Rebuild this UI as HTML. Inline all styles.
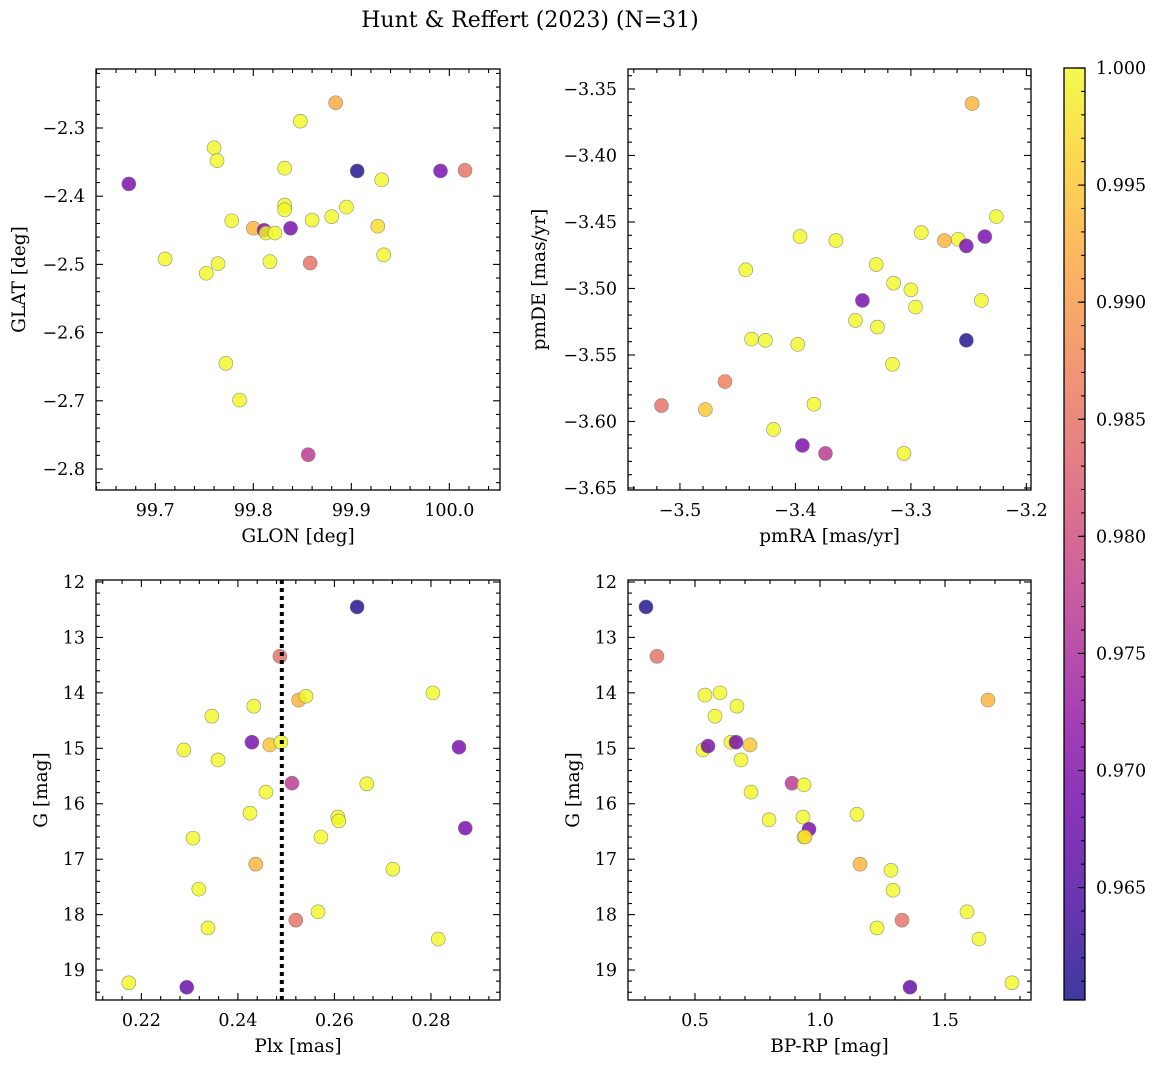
<!DOCTYPE html>
<html><head><meta charset="utf-8">
<style>
html,body{margin:0;padding:0;background:#fff;}
svg text{font-family:"DejaVu Serif","Liberation Serif",serif;fill:#000;}
</style></head>
<body>
<svg id="fig" width="1161" height="1068" xmlns="http://www.w3.org/2000/svg">
<text x="530" y="27" font-size="22" text-anchor="middle">Hunt &amp; Reffert (2023) (N=31)</text>
</svg>
<script>
// ---- Panel 1: GLON / GLAT ----
const glon = [99.673,99.710,99.752,99.764,99.772,99.778,99.786,99.760,99.763,99.800,99.811,99.813,99.822,99.817,99.832,99.832,99.832,99.838,99.848,99.860,99.858,99.856,99.880,99.895,99.884,99.906,99.927,99.931,99.933,99.991,100.016];
const glat = [-2.382,-2.492,-2.513,-2.499,-2.645,-2.436,-2.699,-2.329,-2.348,-2.447,-2.450,-2.454,-2.454,-2.496,-2.359,-2.413,-2.420,-2.447,-2.290,-2.435,-2.498,-2.779,-2.430,-2.416,-2.263,-2.363,-2.444,-2.376,-2.486,-2.363,-2.362];
const prob1 = [0.969,1,1,1,1,1,1,1,1,0.993,0.970,1,1,1,1,1,1,0.969,1,1,0.985,0.977,1,1,0.992,0.961,0.997,1,1,0.969,0.985];
// ---- Panel 2: pmRA / pmDE ----
const pmra = [-3.516,-3.478,-3.461,-3.443,-3.438,-3.426,-3.419,-3.398,-3.396,-3.384,-3.394,-3.374,-3.365,-3.348,-3.342,-3.330,-3.329,-3.316,-3.315,-3.306,-3.300,-3.296,-3.291,-3.271,-3.259,-3.252,-3.252,-3.247,-3.239,-3.236,-3.226];
const pmde = [-3.588,-3.591,-3.570,-3.486,-3.538,-3.539,-3.606,-3.542,-3.461,-3.587,-3.618,-3.624,-3.464,-3.524,-3.509,-3.482,-3.529,-3.557,-3.496,-3.624,-3.501,-3.514,-3.458,-3.464,-3.463,-3.468,-3.539,-3.361,-3.509,-3.461,-3.446];
const prob2 = [0.985,0.995,0.987,1,1,1,1,1,1,1,0.969,0.977,1,1,0.969,1,1,1,1,1,1,1,1,0.993,1,0.969,0.961,0.993,1,0.969,1];
// ---- Panel 3: Plx / G ----
const plx = [0.2174,0.2294,0.2288,0.2307,0.2319,0.2338,0.2346,0.2359,0.2429,0.2425,0.2433,0.2437,0.2466,0.2458,0.2487,0.2489,0.2512,0.2520,0.2526,0.2541,0.2566,0.2572,0.2607,0.2609,0.2647,0.2667,0.2721,0.2804,0.2815,0.2858,0.2871];
const gmag3 = [19.23,19.31,15.03,16.62,17.54,18.24,14.42,15.21,14.89,16.17,14.24,17.09,14.94,15.79,13.34,14.89,15.63,18.10,14.13,14.06,17.95,16.60,16.24,16.31,12.45,15.64,17.18,14.00,18.44,14.98,16.44];
const prob3 = [1,0.967,1,1,1,1,1,1,0.969,1,1,0.993,0.995,1,0.985,1,0.977,0.985,0.993,1,1,1,1,1,0.961,1,1,1,1,0.969,0.969];
const plxLine = [0.2491];
// ---- Panel 4: BP-RP / G ----
const bprp = [0.304,0.348,0.540,0.532,0.552,0.580,0.600,0.644,0.668,0.664,0.684,0.720,0.724,0.796,0.888,0.936,0.932,0.956,0.936,0.940,1.148,1.160,1.284,1.292,1.228,1.328,1.360,1.588,1.636,1.672,1.768];
const gmag4 = [12.45,13.34,14.04,15.03,14.96,14.42,14.00,14.89,14.24,14.89,15.21,14.94,15.79,16.29,15.63,15.66,16.24,16.46,16.60,16.60,16.19,17.09,17.20,17.56,18.24,18.10,19.31,17.95,18.44,14.13,19.23];
const prob4 = [0.961,0.985,1,1,0.969,1,1,1,1,0.969,1,0.995,1,1,0.977,1,1,0.969,1,0.997,1,0.993,1,1,1,0.985,0.967,1,1,0.993,1];
// ---- Colorbar ----
const cbarTicks = [0.965,0.970,0.975,0.980,0.985,0.990,0.995,1.000];
const vmin = 0.9602, vmax = 1.0;

const NS = "http://www.w3.org/2000/svg";
const svg = document.getElementById('fig');
function mk(tag, attrs, parent){const e=document.createElementNS(NS,tag);for(const k in attrs)e.setAttribute(k,attrs[k]);(parent||svg).appendChild(e);return e;}

const plasma=[[13,8,135],[65,4,157],[106,0,168],[143,13,164],[177,42,144],[204,71,120],[225,100,98],[242,132,75],[252,166,54],[252,206,37],[240,249,33]];
function cmap(v){let t=(v-vmin)/(vmax-vmin);t=Math.max(0,Math.min(1,t));const p=t*10,i=Math.min(9,Math.floor(p)),f=p-i;const a=plasma[i],b=plasma[i+1];return `rgb(${Math.round(a[0]+(b[0]-a[0])*f)},${Math.round(a[1]+(b[1]-a[1])*f)},${Math.round(a[2]+(b[2]-a[2])*f)})`;}
function fmt(v,d){const s=Math.abs(v).toFixed(d);return (v<-1e-9?'\u2212':'')+s;}

function panel(cfg){
  const {name,x0,x1,y0,y1,xmin,xmax,ymin,ymax,invert}=cfg;
  const sx=v=>x0+(v-xmin)/(xmax-xmin)*(x1-x0);
  const sy=invert? v=>y0+(v-ymin)/(ymax-ymin)*(y1-y0) : v=>y1-(v-ymin)/(ymax-ymin)*(y1-y0);
  const g=mk('g',{});
  
  
  const pg=mk('g',{},g);
  
  
  cfg.xs.forEach((xv,i)=>{
    const c=mk('circle',{cx:sx(xv),cy:sy(cfg.ys[i]),r:7,fill:cmap(cfg.cs[i]),'fill-opacity':0.8,stroke:'#777','stroke-width':0.6,'stroke-opacity':0.8},pg);
    
    
  });
  if(cfg.vline){cfg.vline.forEach(v=>{
    const l=mk('line',{x1:sx(v),x2:sx(v),y1:y0,y2:y1,stroke:'#000','stroke-width':4,'stroke-dasharray':'4 4'},g);
    
    
  });}
  const fr=mk('rect',{x:x0,y:y0,width:x1-x0,height:y1-y0,fill:'none',stroke:'#000','stroke-width':1.3},g);
  
  
  const tg=mk('g',{stroke:'#000','stroke-width':1.1},g);
  function ticks(min,max,step,minor,axis,dec){
    const n0=Math.ceil(min/minor-1e-6), n1=Math.floor(max/minor+1e-6);
    const per=Math.round(step/minor);
    for(let n=n0;n<=n1;n++){
      const v=n*minor, major=(((n%per)+per)%per)===0;
      const L=major?7:4;
      if(axis==='x'){const p=sx(v);
        mk('line',{x1:p,x2:p,y1:y1,y2:y1-L},tg);mk('line',{x1:p,x2:p,y1:y0,y2:y0+L},tg);
        if(major){const t=mk('text',{x:p,y:y1+26,'font-size':17.5,'text-anchor':'middle',stroke:'none'},g);t.textContent=fmt(v,dec);
          
          }
      } else {const p=sy(v);
        mk('line',{x1:x0,x2:x0+L,y1:p,y2:p},tg);mk('line',{x1:x1,x2:x1-L,y1:p,y2:p},tg);
        if(major){const t=mk('text',{x:x0-11,y:p+6,'font-size':17.5,'text-anchor':'end',stroke:'none'},g);t.textContent=fmt(v,dec);
          
          }
      }
    }
  }
  ticks(xmin,xmax,cfg.xstep,cfg.xminor,'x',cfg.xdec);
  ticks(Math.min(ymin,ymax),Math.max(ymin,ymax),cfg.ystep,cfg.yminor,'y',cfg.ydec);
  const xl=mk('text',{x:(x0+x1)/2,y:y1+52,'font-size':18.5,'text-anchor':'middle'},g);xl.textContent=cfg.xlabel;
  
  
  const yx=cfg.ylx, yy=(y0+y1)/2;
  const yl=mk('text',{x:yx,y:yy,'font-size':18.5,'text-anchor':'middle',transform:`rotate(-90 ${yx} ${yy})`},g);yl.textContent=cfg.ylabel;
  
  
}

panel({name:'glon-glat-panel',x0:96,x1:500,y0:69,y1:490,xmin:99.6395,xmax:100.0517,ymin:-2.8308,ymax:-2.2135,xstep:0.1,xminor:0.02,ystep:0.1,yminor:0.02,xdec:1,ydec:1,xs:glon,ys:glat,cs:prob1,xlabel:'GLON [deg]',ylabel:'GLAT [deg]',ylx:25});
panel({name:'pm-panel',x0:628,x1:1031,y0:69,y1:490,xmin:-3.545,xmax:-3.196,ymin:-3.6515,ymax:-3.335,xstep:0.1,xminor:0.02,ystep:0.05,yminor:0.01,xdec:1,ydec:2,xs:pmra,ys:pmde,cs:prob2,xlabel:'pmRA [mas/yr]',ylabel:'pmDE [mas/yr]',ylx:545});
panel({name:'plx-g-panel',x0:96,x1:500,y0:580,y1:1000,xmin:0.2106,xmax:0.2943,ymin:11.964,ymax:19.54,invert:true,xstep:0.02,xminor:0.004,ystep:1,yminor:0.2,xdec:2,ydec:0,xs:plx,ys:gmag3,cs:prob3,vline:plxLine,xlabel:'Plx [mas]',ylabel:'G [mag]',ylx:47});
panel({name:'cmd-panel',x0:628,x1:1031,y0:580,y1:1000,xmin:0.232,xmax:1.844,ymin:11.964,ymax:19.54,invert:true,xstep:0.5,xminor:0.1,ystep:1,yminor:0.2,xdec:1,ydec:0,xs:bprp,ys:gmag4,cs:prob4,xlabel:'BP-RP [mag]',ylabel:'G [mag]',ylx:579});

(function(){
  const cx0=1064,cx1=1085,cy0=68,cy1=1000;
  const defs=mk('defs',{});
  const lg=mk('linearGradient',{id:'cg',x1:0,y1:1,x2:0,y2:0},defs);
  for(let i=0;i<=10;i++){mk('stop',{offset:i/10,'stop-color':`rgb(${plasma[i].join(',')})`},lg);}
  const cb=mk('g',{});
  
  
  mk('rect',{x:cx0,y:cy0,width:cx1-cx0,height:cy1-cy0,fill:'url(#cg)','fill-opacity':0.8},cb);
  mk('rect',{x:cx0,y:cy0,width:cx1-cx0,height:cy1-cy0,fill:'none',stroke:'#000','stroke-width':1.3},cb);
  const sy=v=>cy1-(v-vmin)/(vmax-vmin)*(cy1-cy0);
  for(let n=Math.ceil(vmin/0.001-1e-6);n<=Math.floor(vmax/0.001+1e-6);n++){
    const p=sy(n*0.001);mk('line',{x1:cx1,x2:cx1-4,y1:p,y2:p,stroke:'#000','stroke-width':1.1},cb);
  }
  cbarTicks.forEach(v=>{
    const p=sy(v);mk('line',{x1:cx1,x2:cx1-7,y1:p,y2:p,stroke:'#000','stroke-width':1.1},cb);
    const t=mk('text',{x:cx1+11,y:p+6,'font-size':17.5},cb);t.textContent=v.toFixed(3);
    
    
  });
})();
</script>
</body></html>
